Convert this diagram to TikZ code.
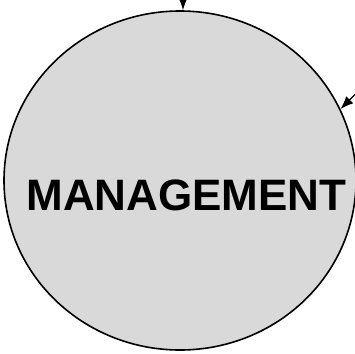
\documentclass[tikz,border=0pt]{standalone}
\usepackage{fontspec}
\setmainfont{Liberation Sans}
\usetikzlibrary{shapes.geometric, arrows.meta, positioning, calc}
\definecolor{DiskGray}{RGB}{217, 217, 217}

\begin{document}
\begin{tikzpicture}[x=1pt, y=-1pt,
    disk/.style={ellipse, draw=black, fill=DiskGray, line width=1.6pt, minimum width=352pt, minimum height=339pt, inner sep=0pt},
    label/.style={font=\bfseries\fontsize{44}{48}\selectfont, text=black},
    arrow/.style={line width=1.2pt, -{Latex[length=13pt, width=10pt]}, draw=black}
]
\useasboundingbox (0,0) rectangle (355,353);
\node[disk] (mgmt) at (180,180.5) {};
\node[label] (title) at (186.5,195) {MANAGEMENT};

\coordinate (topin) at (183,-4);
\coordinate (rightin) at (360,89.5);
\draw[arrow] (topin) -- (mgmt.north -| topin);
\draw[arrow] (rightin) -- (mgmt.24);
\end{tikzpicture}
\end{document}
